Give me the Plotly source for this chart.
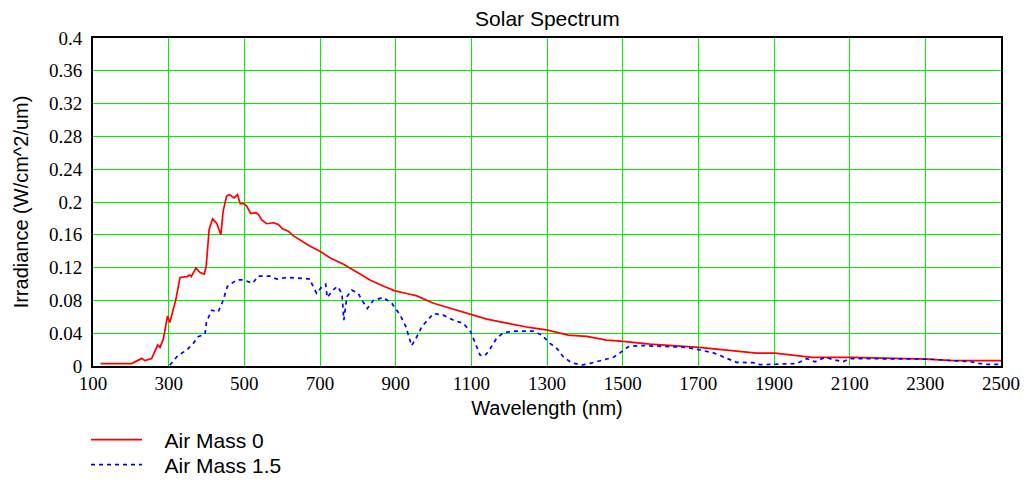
import plotly.graph_objects as go

# Air Mass 0 spectrum (nm, W/cm^2/um)
am0_wavelength = [120, 202, 229, 237, 255, 271, 277, 286, 297, 303, 319, 330, 348, 356, 360, 372, 383, 394, 399, 407,
                  416, 427, 438, 444, 453, 460, 473, 482, 489, 499, 506, 517, 530, 537, 546, 559, 577, 590, 601, 616,
                  629, 652, 674, 700, 726, 744, 762, 797, 815, 832, 867, 898, 929, 956, 1000, 1052, 1098, 1141, 1194, 1253,
                  1302, 1356, 1405, 1458, 1502, 1572, 1702, 1793, 1854, 1903, 1969, 2000, 2106, 2304, 2374, 2500]
am0_irradiance = [0.003, 0.003, 0.0093, 0.0065, 0.009, 0.0255, 0.0227, 0.033, 0.061, 0.053, 0.081, 0.108, 0.109, 0.111,
                  0.109, 0.1196, 0.114, 0.112, 0.121, 0.1666, 0.1795, 0.174, 0.160, 0.189, 0.207, 0.209, 0.205, 0.209,
                  0.198, 0.198, 0.195, 0.186, 0.187, 0.185, 0.178, 0.1735, 0.1747, 0.1726, 0.1674, 0.1645, 0.159, 0.152,
                  0.146, 0.140, 0.132, 0.128, 0.124, 0.1147, 0.110, 0.105, 0.0976, 0.0916, 0.0884, 0.0855, 0.0766, 0.0693,
                  0.0632, 0.0571, 0.0523, 0.047, 0.0438, 0.0377, 0.0361, 0.0316, 0.030, 0.0267, 0.0227, 0.0186, 0.0158,
                  0.0158, 0.0125, 0.0106, 0.0106, 0.0085, 0.0065, 0.0065]

# Air Mass 1.5 spectrum
am15_wavelength = [303, 325, 348, 365, 378, 396, 400, 414, 431, 444, 455, 480, 497, 522, 537, 568, 586, 603, 612, 656,
                   674, 678, 691, 705, 715, 719, 734, 746, 758, 763, 771, 784, 801, 810, 825, 841, 867, 890, 912, 927,
                   934, 942, 956, 969, 1000, 1026, 1052, 1079, 1098, 1110, 1123, 1134, 1145, 1167, 1185, 1211, 1264, 1286,
                   1308, 1326, 1343, 1365, 1392, 1414, 1440, 1476, 1493, 1515, 1546, 1616, 1669, 1705, 1740, 1775, 1801,
                   1845, 1863, 1960, 1987, 2008, 2035, 2061, 2083, 2101, 2304, 2374, 2418, 2440, 2463, 2500]
am15_irradiance = [0.001, 0.013, 0.0195, 0.0276, 0.0357, 0.039, 0.054, 0.068, 0.066, 0.080, 0.097, 0.105, 0.105, 0.101,
                   0.1096, 0.1096, 0.106, 0.1068, 0.108, 0.1068, 0.106, 0.1007, 0.0886, 0.0966, 0.0998, 0.0836, 0.0925,
                   0.097, 0.0885, 0.056, 0.0844, 0.0925, 0.0885, 0.081, 0.070, 0.080, 0.0836, 0.0763, 0.062, 0.048,
                   0.0357, 0.0247, 0.0357, 0.048, 0.064, 0.062, 0.056, 0.052, 0.0418, 0.0276, 0.0134, 0.012, 0.0174,
                   0.034, 0.0405, 0.0426, 0.0426, 0.0377, 0.0276, 0.0215, 0.0113, 0.004, 0.0012, 0.0032, 0.006, 0.0106,
                   0.016, 0.0235, 0.025, 0.0235, 0.0227, 0.0195, 0.016, 0.0094, 0.0045, 0.004, 0.0016, 0.003, 0.009,
                   0.005, 0.0106, 0.0073, 0.0053, 0.009, 0.0085, 0.0065, 0.0053, 0.0033, 0.002, 0.002]

x_tick_values = [100, 300, 500, 700, 900, 1100, 1300, 1500, 1700, 1900, 2100, 2300, 2500]
y_tick_values = [0, 0.04, 0.08, 0.12, 0.16, 0.2, 0.24, 0.28, 0.32, 0.36, 0.4]
y_tick_labels = ["0", "0.04", "0.08", "0.12", "0.16", "0.2", "0.24", "0.28", "0.32", "0.36", "0.4"]

NB = "\u00a0\u00a0\u00a0"

fig = go.Figure()
fig.add_trace(go.Scatter(x=am0_wavelength, y=am0_irradiance, mode="lines", name=NB + "Air Mass 0",
                         line=dict(color="#ff0000", width=1.7), legend="legend"))
fig.add_trace(go.Scatter(x=am15_wavelength, y=am15_irradiance, mode="lines", name=NB + "Air Mass 1.5",
                         line=dict(color="#0000ff", width=1.7, dash="4px,4px"), legend="legend2"))

tick_font = dict(family="Times New Roman", size=19, color="black")
sans = "Arial"
legend_common = dict(xref="paper", x=-0.0077, xanchor="left", yref="container", yanchor="middle",
                     font=dict(family=sans, size=21, color="black"), bgcolor="rgba(0,0,0,0)",
                     itemwidth=51, borderwidth=0)

fig.update_layout(
    width=1029, height=482,
    margin=dict(l=93, r=28, t=38, b=116, autoexpand=False),
    paper_bgcolor="white", plot_bgcolor="white",
    title=dict(text="Solar Spectrum", x=0.532, xanchor="center", y=0.962, yanchor="middle",
               font=dict(family=sans, size=21, color="black")),
    xaxis=dict(range=[100, 2500], tickvals=x_tick_values, ticks="outside", ticklen=7, tickcolor="white",
               showgrid=True,
               gridcolor="#00ee00", gridwidth=1, showline=True, linecolor="black", linewidth=2,
               mirror=True, zeroline=False, tickfont=tick_font, ticklabelstandoff=-8,
               title=dict(text="Wavelength (nm)", font=dict(family=sans, size=20, color="black"))),
    yaxis=dict(range=[0, 0.4], tickvals=y_tick_values, ticktext=y_tick_labels, ticks="outside", ticklen=5,
               tickcolor="white", showgrid=True,
               gridcolor="#00ee00", gridwidth=1, showline=True, linecolor="black", linewidth=2,
               mirror=True, zeroline=False, tickfont=tick_font,
               title=dict(text="Irradiance (W/cm^2/um)", font=dict(family=sans, size=20, color="black"))),
    legend=dict(y=1 - 440 / 482, **legend_common),
    legend2=dict(y=1 - 465 / 482, **legend_common),
    showlegend=True,
)

fig.write_html("out.html")
